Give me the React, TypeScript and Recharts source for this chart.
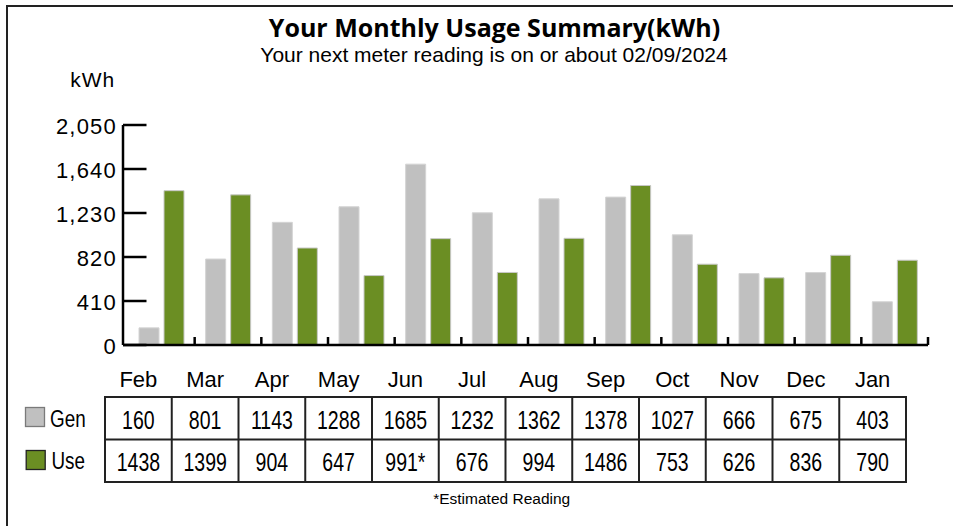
import React from 'react';
import { BarChart, Bar, XAxis, YAxis } from 'recharts';

const months = ['Feb', 'Mar', 'Apr', 'May', 'Jun', 'Jul', 'Aug', 'Sep', 'Oct', 'Nov', 'Dec', 'Jan'];
const gen = [160, 801, 1143, 1288, 1685, 1232, 1362, 1378, 1027, 666, 675, 403];
const use = [1438, 1399, 904, 647, 991, 676, 994, 1486, 753, 626, 836, 790];
const estimated = [false, false, false, false, true, false, false, false, false, false, false, false];
const yTicks = [0, 410, 820, 1230, 1640, 2050];

const title = 'Your Monthly Usage Summary(kWh)';
const subtitle = 'Your next meter reading is on or about 02/09/2024';
const footnote = '*Estimated Reading';
const seriesNames = ['Gen', 'Use'];
const seriesColors = ['#c0c0c0', '#6b8e23'];

const data = months.map((m, i) => ({ month: m, gen: gen[i], use: use[i] }));

const FONT = "'Liberation Sans', Arial, sans-serif";

const YTick = (props: any) => {
  const { x, y, payload } = props;
  return (
    <g>
      <line x1={x} x2={x + 23.5} y1={y} y2={y} stroke="#000" strokeWidth={2.5} />
      <text
        x={x - 6}
        y={y}
        dy={8.5}
        textAnchor="end"
        fontSize={22}
        fontFamily={FONT}
        letterSpacing={1.2}
        fill="#000"
      >
        {Number(payload.value).toLocaleString('en-US')}
      </text>
    </g>
  );
};

const XTick = (props: any) => {
  const { x, y, payload } = props;
  const half = typeof payload?.offset === 'number' && payload.offset > 0 ? payload.offset : 33.33;
  const bx = x + half;
  return <line x1={bx} x2={bx} y1={y} y2={y - 8} stroke="#000" strokeWidth={2.5} />;
};

const TABLE_LEFT = 105;
const TABLE_TOP = 397;
const COL_W = 66.75;
const ROW_H = 42.5;

const Overlay = () => {
  const n = months.length;
  const right = TABLE_LEFT + COL_W * n;
  const bottom = TABLE_TOP + ROW_H * 2;
  const rows = [gen.map((v) => String(v)), use.map((v, i) => String(v) + (estimated[i] ? '*' : ''))];
  return (
    <svg
      width={953}
      height={526}
      style={{ position: 'absolute', left: 0, top: 0, pointerEvents: 'none' }}
    >
      <path d="M7,540 L7,6 L960,6" fill="none" stroke="#222" strokeWidth={2} />
      <text
        x={494.5}
        y={36.5}
        textAnchor="middle"
        fontFamily="'Open Sans', sans-serif"
        fontWeight={700}
        fontSize={25}
        fill="#000"
      >
        {title}
      </text>
      <text x={494} y={61.5} textAnchor="middle" fontFamily={FONT} fontSize={21} fill="#000">
        {subtitle}
      </text>
      <text x={92.7} y={87} textAnchor="middle" fontFamily={FONT} fontSize={21} letterSpacing={1} fill="#000">
        kWh
      </text>
      {months.map((m, i) => (
        <text
          key={m}
          x={TABLE_LEFT + COL_W * (i + 0.5)}
          y={387}
          textAnchor="middle"
          fontFamily={FONT}
          fontSize={22}
          fill="#000"
        >
          {m}
        </text>
      ))}
      {rows.map((row, r) =>
        row.map((s, i) => (
          <text
            key={`${r}-${i}`}
            transform={`translate(${TABLE_LEFT + COL_W * (i + 0.5)},${TABLE_TOP + ROW_H * r + 31.5}) scale(0.78,1)`}
            textAnchor="middle"
            fontFamily={FONT}
            fontSize={25}
            fill="#000"
          >
            {s}
          </text>
        ))
      )}
      {[0, 1, 2].map((r) => (
        <line
          key={`h${r}`}
          x1={TABLE_LEFT}
          x2={right}
          y1={TABLE_TOP + ROW_H * r}
          y2={TABLE_TOP + ROW_H * r}
          stroke="#222"
          strokeWidth={2}
          strokeLinecap="square"
        />
      ))}
      {Array.from({ length: n + 1 }, (_, i) => (
        <line
          key={`v${i}`}
          x1={TABLE_LEFT + COL_W * i}
          x2={TABLE_LEFT + COL_W * i}
          y1={TABLE_TOP}
          y2={bottom}
          stroke="#222"
          strokeWidth={2}
        />
      ))}
      {seriesNames.map((name, r) => (
        <g key={name}>
          <rect
            x={25.5 + r * 0.7}
            y={407.5 + r * 43}
            width={19}
            height={19}
            fill={seriesColors[r]}
            stroke={r === 0 ? '#7a7a7a' : '#222'}
            strokeWidth={1.3}
          />
          <text
            transform={`translate(${50 + r * 1.5},${427 + r * 42.3}) scale(0.82,1)`}
            fontFamily={FONT}
            fontSize={23}
            fill="#000"
          >
            {name}
          </text>
        </g>
      ))}
      <text x={501.7} y={504} textAnchor="middle" fontFamily={FONT} fontSize={15.5} fill="#000">
        {footnote}
      </text>
    </svg>
  );
};

export default function App() {
  return (
    <div style={{ position: 'absolute', left: 0, top: 0, width: 953, height: 526, background: '#fff', overflow: 'hidden' }}>
      <BarChart
        width={953}
        height={526}
        data={data}
        margin={{ top: 125, right: 25, bottom: 180, left: 0 }}
        barGap={5}
        barSize={20}
      >
        <YAxis
          type="number"
          width={123}
          domain={[0, 2050]}
          ticks={yTicks}
          interval={0}
          tickSize={0}
          tickMargin={0}
          tickLine={false}
          tick={<YTick />}
          axisLine={{ stroke: '#000', strokeWidth: 2.5 }}
        />
        <XAxis
          dataKey="month"
          height={1}
          padding={{ left: 5, right: 0 }}
          interval={0}
          tickSize={0}
          tickMargin={0}
          tickLine={false}
          tick={<XTick />}
          axisLine={{ stroke: '#000', strokeWidth: 2.5 }}
        />
        <Bar dataKey="gen" name="Gen" fill="#c0c0c0" stroke="#d4d4d4" strokeWidth={1} isAnimationActive={false} />
        <Bar dataKey="use" name="Use" fill="#6b8e23" stroke="#c8c8c8" strokeWidth={1} isAnimationActive={false} />
      </BarChart>
      <Overlay />
    </div>
  );
}
